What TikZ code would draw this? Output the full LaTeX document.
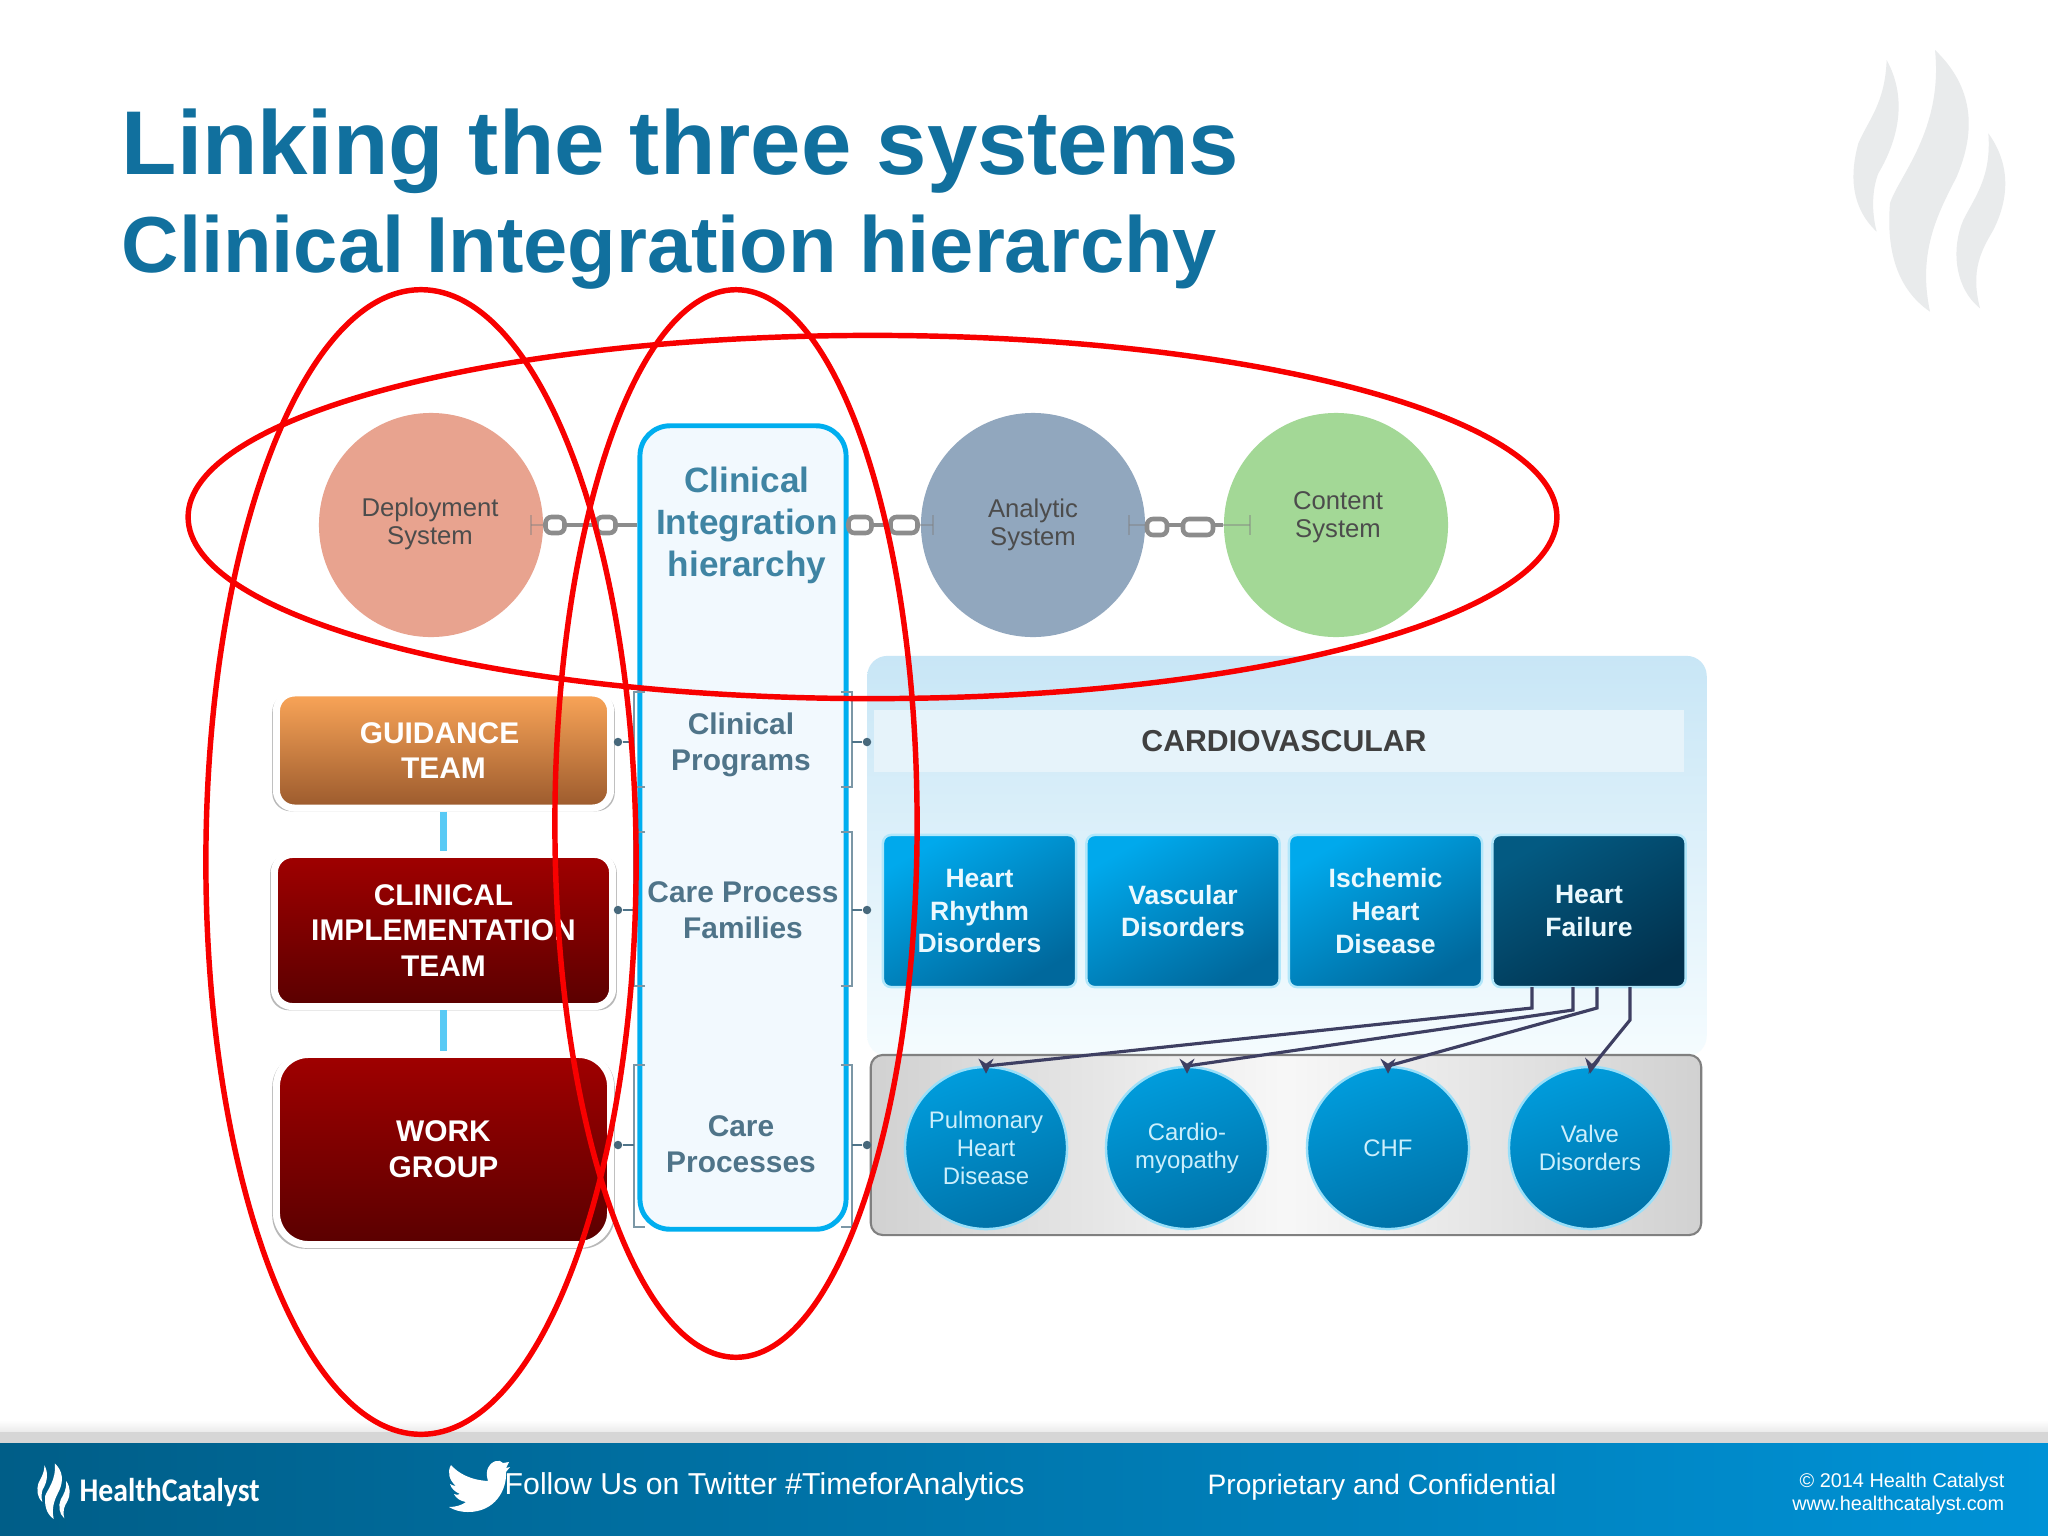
\documentclass[tikz,border=0pt]{standalone}
\usepackage{fontspec}
\setmainfont{Liberation Sans}
\newfontfamily\logofont[FakeStretch=0.9]{Carlito}
\usetikzlibrary{shapes.geometric, shadows, arrows.meta}

\definecolor{titleblue}{HTML}{11709E}
\definecolor{columnblue}{HTML}{00AEEF}
\definecolor{stagetext}{HTML}{4F7489}
\definecolor{hierarchytext}{HTML}{3F84A3}
\definecolor{ringred}{HTML}{F80000}
\definecolor{busline}{HTML}{3E3F62}
\definecolor{deploycolor}{HTML}{E8A38F}
\definecolor{analyticcolor}{HTML}{91A7BE}
\definecolor{contentcolor}{HTML}{A3D896}
\definecolor{columnfill}{HTML}{F2F9FE}
\definecolor{paneltop}{HTML}{C8E6F6}
\definecolor{bandfill}{HTML}{E6F3FA}
\definecolor{boxblue}{HTML}{00A9EC}
\definecolor{boxbluedark}{HTML}{00689C}
\definecolor{circleblue}{HTML}{009CDC}
\definecolor{circlebluedark}{HTML}{0072A8}
\definecolor{failurenavy}{HTML}{035A82}
\definecolor{failuredark}{HTML}{02324E}
\definecolor{orangetop}{HTML}{FAA558}
\definecolor{orangebottom}{HTML}{9B5A2D}
\definecolor{redtop}{HTML}{A00000}
\definecolor{redbottom}{HTML}{5A0000}
\definecolor{footerleft}{HTML}{005E88}
\definecolor{footerright}{HTML}{0092D6}
\definecolor{flamegray}{HTML}{E9EBEC}

\tikzset{
  teambox/.style = {rectangle, rounded corners = 0.18cm, draw = white, line width = 2pt,
    minimum width = 3.34cm, text = white, align = center,
    font = \fontsize{8.5}{10.2}\bfseries\selectfont,
    drop shadow = {shadow xshift = 0pt, shadow yshift = -0.5pt, shadow scale = 1.025, fill = black!55}},
  systemcircle/.style = {circle, minimum size = 2.24cm, inner sep = 0pt},
  systemlabel/.style = {align = center, text = black!70, font = \fontsize{7.3}{7.8}\selectfont},
  stagelabel/.style = {align = center, text = stagetext,
    font = \fontsize{8.5}{10.4}\bfseries\selectfont},
  diseasebox/.style = {rectangle, rounded corners = 0.08cm, draw = white!70!columnblue, line width = 0.7pt,
    minimum width = 1.93cm, minimum height = 1.52cm, inner sep = 0pt, align = center,
    text = white!92!columnblue, font = \fontsize{7.55}{9.3}\bfseries\selectfont},
  bluefade/.style = {top color = boxblue, bottom color = boxbluedark, shading angle = 30},
  navyfade/.style = {top color = failurenavy, bottom color = failuredark, shading angle = 30},
  diseasecircle/.style = {circle, minimum size = 1.62cm, inner sep = 0pt, align = center,
    draw = white!60!columnblue, line width = 0.7pt,
    text = white!80!columnblue, font = \fontsize{6.8}{8}\selectfont,
    top color = circleblue, bottom color = circlebluedark, shading angle = 20},
  ring/.style = {ellipse, draw = ringred, line width = 1.55pt, inner sep = 0pt},
  chainline/.style = {draw = black!45, line width = 1.2pt},
  chainfork/.style = {draw = black!50, opacity = 0.45, line width = 0.6pt, -{Bar[width = 0.2cm]}},
  chainlink/.style = {rectangle, rounded corners = 0.06cm, draw = black!45, line width = 1.3pt,
    fill = white, minimum height = 0.16cm, inner sep = 0pt},
  bracket/.style = {draw = stagetext!75, line width = 0.45pt},
  dotline/.style = {draw = stagetext, line width = 0.6pt},
  leveldot/.style = {circle, fill = stagetext!90!black, minimum size = 0.085cm, inner sep = 0pt},
  feed/.style = {draw = busline, line width = 0.9pt, -{Stealth[length = 0.15cm, width = 0.15cm]}},
  teamline/.style = {draw = columnblue!65, line width = 2pt},
  footertext/.style = {text = white, anchor = base west, inner sep = 0pt},
  flames/.pic = {
    \fill (260,90) .. controls (320,200) and (300,320) .. (235,430)
      .. controls (215,480) and (215,550) .. (230,605)
      .. controls (150,530) and (150,430) .. (175,340)
      .. controls (205,270) and (255,220) .. cycle;
    \fill (405,60) .. controls (520,170) and (530,300) .. (470,440)
      .. controls (420,540) and (350,660) .. (390,845)
      .. controls (280,770) and (260,640) .. (270,520)
      .. controls (295,440) and (430,300) .. cycle;
    \fill (565,310) .. controls (630,400) and (630,500) .. (580,600)
      .. controls (545,660) and (510,720) .. (540,835)
      .. controls (460,770) and (455,650) .. (490,570)
      .. controls (525,500) and (575,440) .. cycle;
  }
}

\begin{document}
\begin{tikzpicture}[x = 0.01cm, y = -0.01cm]
  \useasboundingbox (0, 0) rectangle (2048, 1536);
  \fill[white] (0, 0) rectangle (2048, 1536);

  % watermark and titles
  \pic[flamegray] at (1800, 30) [scale = 1/3] {flames};
  \node[anchor = base west, inner sep = 0pt, text = titleblue, font = \fontsize{25.76}{30}\bfseries\selectfont]
    (main title) at (121, 174) {Linking the three systems};
  \node[anchor = base west, inner sep = 0pt, text = titleblue, font = \fontsize{22.6}{26}\bfseries\selectfont]
    (sub title) at (121, 272) {Clinical Integration hierarchy};

  % three systems
  \node[systemcircle, fill = deploycolor] (deployment) at (431, 525) {};
  \node[systemcircle, fill = analyticcolor] (analytic) at (1033, 525) {};
  \node[systemcircle, fill = contentcolor] (content) at (1336, 525) {};
  \node[systemlabel] (deployment label) at (430, 524) {Deployment \\ System};
  \node[systemlabel] (analytic label) at (1033, 525) {Analytic \\ System};
  \node[systemlabel] (content label) at (1338, 517) {Content \\ System};

  % hierarchy column
  \node[rectangle, rounded corners = 0.3cm, draw = columnblue, line width = 1.4pt, fill = columnfill,
    minimum width = 2.06cm, minimum height = 8.03cm] (hierarchy) at (743, 827.5) {};
  \node[stagelabel, text = hierarchytext, font = \fontsize{10}{11.9}\bfseries\selectfont] (hierarchy title) at (747, 525.5) {Clinical \\ Integration \\ hierarchy};
  \node[stagelabel] (clinical programs) at (741, 745) {Clinical \\ Programs};
  \node[stagelabel] (care families) at (743, 910) {Care Process \\ Families};
  \node[stagelabel] (care processes) at (741, 1144) {Care \\ Processes};

  % chains
  \draw[chainline] (deployment.east) -- (deployment.east -| hierarchy.west);
  \draw[chainline] (analytic.west -| hierarchy.east) -- (analytic.west);
  \draw[chainline] (analytic.east) -- (content.west);
  \draw[chainfork] (deployment.east) -- ++(-14, 0);
  \draw[chainfork] (analytic.west) -- ++(14, 0);
  \draw[chainfork] (analytic.east) -- ++(-18, 0);
  \draw[chainfork] (content.west) -- ++(28, 0);
  \foreach \name/\x/\y/\wide in {a/555/525/0.19cm, b/606/525/0.19cm, c/860/525/0.23cm, d/904/525/0.27cm, e/1157/527/0.2cm, f/1198/527/0.3cm}
    \node[chainlink, minimum width = \wide] (link \name) at (\x, \y) {};

  % domain panels
  \node[rectangle, rounded corners = 0.2cm, top color = paneltop, bottom color = white!96!columnblue,
    minimum width = 8.39cm, minimum height = 4cm] (domain panel) at (1287, 856) {};
  \node[rectangle, fill = bandfill, minimum width = 8.1cm, minimum height = 0.62cm,
    text = black!75, font = \fontsize{8.6}{10}\bfseries\selectfont] (cardiovascular) at (1279, 741) {\hspace*{0.1cm}CARDIOVASCULAR};
  \node[rectangle, rounded corners = 0.12cm, draw = black!50, line width = 0.6pt,
    left color = black!18, right color = black!18, middle color = black!3,
    minimum width = 8.3cm, minimum height = 1.8cm] (gray panel) at (1286, 1145) {};

  \node[diseasebox, bluefade] (heart rhythm) at (979.5, 911) {Heart \\ Rhythm \\ Disorders};
  \node[diseasebox, bluefade] (vascular) at (1183, 911) {Vascular \\ Disorders};
  \node[diseasebox, bluefade] (ischemic) at (1385.5, 911) {Ischemic \\ Heart \\ Disease};
  \node[diseasebox, navyfade] (heart failure) at (1589, 911) {Heart \\ Failure};

  \node[diseasecircle] (pulmonary) at (986, 1148) {Pulmonary \\ Heart \\ Disease};
  \node[diseasecircle] (cardio) at (1187, 1148) {Cardio- \\ myopathy};
  \node[diseasecircle] (chf) at (1388, 1148) {CHF};
  \node[diseasecircle] (valve) at (1590, 1148) {Valve \\ Disorders};

  % heart failure feeds
  \coordinate (failure a) at (1532, 987);
  \coordinate (failure b) at (1573, 987);
  \coordinate (failure c) at (1597, 987);
  \coordinate (failure d) at (1630, 987);
  \draw[feed] (failure a) -- (1532, 1008) -- (986, 1066) -- ([yshift = -0.08cm]pulmonary.north);
  \draw[feed] (failure b) -- (1573, 1010) -- (1187, 1066) -- ([yshift = -0.08cm]cardio.north);
  \draw[feed] (failure c) -- (1597, 1008) -- (1388, 1066) -- ([yshift = -0.08cm]chf.north);
  \draw[feed] (failure d) -- (1630, 1020) -- (1591, 1068) -- ([yshift = -0.08cm]valve.north);

  % teams
  \node[teambox, minimum height = 1.15cm, top color = orangetop, bottom color = orangebottom]
    (guidance) at (443.5, 750.5) {GUIDANCE\hspace{0.08cm} \\ TEAM};
  \node[teambox, minimum width = 3.38cm, minimum height = 1.52cm, top color = redtop, bottom color = redbottom]
    (implementation) at (443.5, 930.5) {CLINICAL \\ IMPLEMENTATION \\ TEAM};
  \node[teambox, rounded corners = 0.32cm, minimum height = 1.9cm, top color = redtop, bottom color = redbottom]
    (work group) at (443.5, 1149.5) {WORK \\ GROUP};
  \draw[teamline] (guidance) -- (implementation);
  \draw[teamline] (implementation) -- (work group);

  % brackets either side of the column
  \foreach \name/\top/\mid/\bot in {a/692/742/787, b/832/910/986, c/1065/1145/1227} {
    \draw[bracket] (645, \top) -- (634, \top) -- (634, \bot) -- (645, \bot);
    \draw[bracket] (841, \top) -- (852, \top) -- (852, \bot) -- (841, \bot);
    \coordinate (left foot \name) at (634, \mid);
    \coordinate (right foot \name) at (852, \mid);
    \node[leveldot] (left dot \name) at (618, \mid) {};
    \node[leveldot] (right dot \name) at (867, \mid) {};
    \draw[dotline] (left dot \name) -- (left foot \name);
    \draw[dotline] (right foot \name) -- (right dot \name);
  }

  % footer
  \shade[top color = white, bottom color = black!8] (0, 1420) rectangle (2048, 1432);
  \fill[black!16] (0, 1432) rectangle (2048, 1443);
  \shade[left color = footerleft, right color = footerright] (0, 1443) rectangle (2048, 1536);
  \pic[white] at (26, 1459) [scale = 0.071] {flames};
  \node[footertext, font = \logofont\fontsize{9.4}{11}\selectfont\bfseries] (logo text) at (79, 1501) {HealthCatalyst};
  \fill[white] (488,1468) .. controls (492,1460) and (500,1459) .. (503,1463) -- (509,1462) -- (506,1468) -- (510,1467) -- (506,1472)
    .. controls (507,1490) and (495,1512) .. (468,1512) .. controls (460,1512) and (454,1510) .. (449,1507)
    .. controls (456,1507) and (462,1505) .. (466,1502) .. controls (460,1501) and (456,1498) .. (454,1494)
    .. controls (456,1495) and (458,1495) .. (460,1494) .. controls (455,1492) and (451,1488) .. (450,1484)
    .. controls (452,1485) and (454,1486) .. (456,1486) .. controls (449,1480) and (447,1472) .. (451,1465)
    .. controls (458,1473) and (470,1480) .. (488,1481) .. controls (486,1475) and (487,1470) .. cycle;
  \node[footertext, font = \fontsize{8.6}{10}\selectfont] (twitter text) at (504, 1494) {Follow Us on Twitter \#TimeforAnalytics};
  \node[footertext, font = \fontsize{8}{10}\selectfont] (proprietary) at (1207, 1494) {Proprietary and Confidential};
  \node[anchor = east, inner sep = 0pt, align = right, text = white, font = \fontsize{5.65}{6.7}\selectfont]
    (copyright) at (2005, 1494) {© 2014 Health Catalyst \\ www.healthcatalyst.com};

  % red rings on top
  \node[ring, minimum width = 4.3cm, minimum height = 11.44cm] (team ring) at (421, 862) {};
  \node[ring, minimum width = 3.62cm, minimum height = 10.67cm] (hierarchy ring) at (736, 823.5) {};
  \node[ring, minimum width = 13.68cm, minimum height = 3.63cm] (system ring) at (872.5, 517) {};
\end{tikzpicture}
\end{document}
